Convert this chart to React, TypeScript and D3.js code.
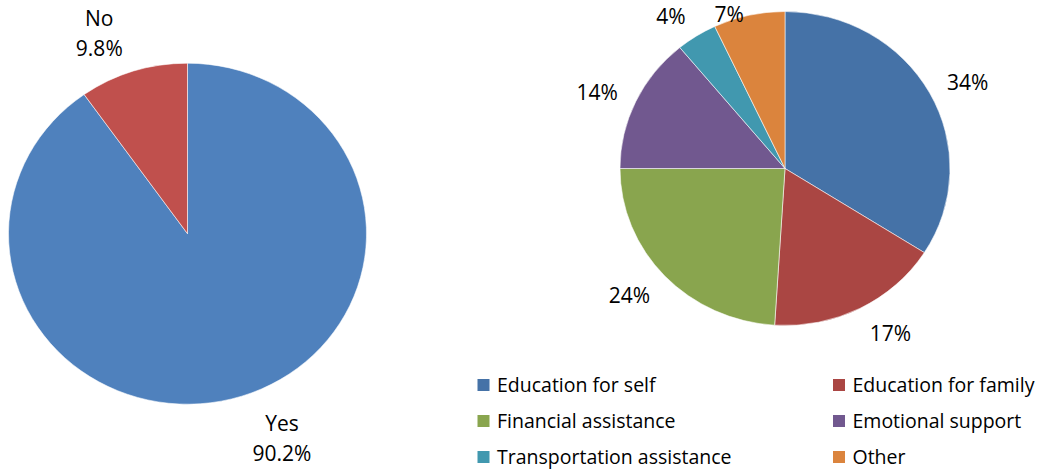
import React from "react";
import * as d3 from "d3";

const answerLabels = ["Yes", "No"];
const answerValues = [90.2, 9.8];
const answerColors = ["#4F81BD", "#C0504D"];

const needCategories = [
  "Education for self",
  "Education for family",
  "Financial assistance",
  "Emotional support",
  "Transportation assistance",
  "Other",
];
const needValues = [34, 17, 24, 14, 4, 7];
const needColors = ["#4572A7", "#AA4643", "#89A54E", "#71588F", "#4198AF", "#DB843D"];

const FONT = "'Open Sans', 'Noto Sans', sans-serif";
const W = 1044;
const H = 472;

type Pie = { cx: number; cy: number; rx: number; ry: number };
const leftPie: Pie = { cx: 187.5, cy: 233.7, rx: 179, ry: 170.5 };
const rightPie: Pie = { cx: 785, cy: 168.5, rx: 165, ry: 157 };

const LABEL_SIZE = 21;
const LINE_H = 30;

function labelPos(p: Pie, angle: number, lines: string[]) {
  const sx = Math.sin(angle);
  const sy = -Math.cos(angle);
  const ex = p.cx + p.rx * sx;
  const ey = p.cy + p.ry * sy;
  const longest = d3.max(lines, (l) => l.length) || 1;
  const w = 12.5 * longest + 4;
  const x = ex + 18 * sx + (w / 2 + 1.5) * Math.sign(sx);
  let y = ey + 26 * sy + 2 + ((lines.length - 1) * LINE_H) / 2 * Math.sign(sy);
  const half = (lines.length * LINE_H) / 2 - 6;
  y = Math.max(y, half + 5);
  return { x, y };
}

function PieChart({
  p,
  values,
  colors,
  labels,
}: {
  p: Pie;
  values: number[];
  colors: string[];
  labels: string[][];
}) {
  const arcs = d3.pie<number>().sort(null).value((d) => d)(values);
  const arc = d3.arc<d3.PieArcDatum<number>>().innerRadius(0).outerRadius(p.rx);
  return (
    <g>
      <g transform={`translate(${p.cx},${p.cy}) scale(1,${p.ry / p.rx})`}>
        {arcs.map((a, i) => (
          <path
            key={i}
            d={arc(a) || ""}
            fill={colors[i]}
            stroke="#ffffff"
            strokeOpacity={0.7}
            strokeWidth={0.8}
            vectorEffect="non-scaling-stroke"
          />
        ))}
      </g>
      {arcs.map((a, i) => {
        const mid = (a.startAngle + a.endAngle) / 2;
        const lines = labels[i];
        const pos = labelPos(p, mid, lines);
        const top = pos.y - ((lines.length - 1) * LINE_H) / 2;
        return (
          <text
            key={i}
            textAnchor="middle"
            fontFamily={FONT}
            fontSize={LABEL_SIZE}
            fill="#000"
          >
            {lines.map((l, j) => (
              <tspan key={j} x={pos.x} y={top + j * LINE_H + LABEL_SIZE * 0.36}>
                {l}
              </tspan>
            ))}
          </text>
        );
      })}
    </g>
  );
}

export default function App() {
  const leftLabels = answerLabels.map((l, i) => [l, `${answerValues[i]}%`]);
  const rightLabels = needValues.map((v) => [`${v}%`]);

  const rowY = d3.scalePoint<number>().domain([0, 1, 2]).range([385, 457]);
  const colX = d3.scalePoint<number>().domain([0, 1]).range([477.5, 833]);
  const SQ = 12;

  return (
    <svg
      width={W}
      height={H}
      viewBox={`0 0 ${W} ${H}`}
      style={{ position: "absolute", left: 0, top: 0, background: "#fff" }}
    >
      <rect width={W} height={H} fill="#fff" />
      <PieChart p={leftPie} values={answerValues} colors={answerColors} labels={leftLabels} />
      <PieChart p={rightPie} values={needValues} colors={needColors} labels={rightLabels} />
      <g>
        {needCategories.map((c, i) => {
          const x = colX(i % 2) as number;
          const y = rowY(Math.floor(i / 2)) as number;
          return (
            <g key={c}>
              <rect x={x} y={y - SQ / 2} width={SQ} height={SQ} fill={needColors[i]} />
              <text x={x + 19.5} y={y + 6.8} fontFamily={FONT} fontSize={19.5} fill="#000">
                {c}
              </text>
            </g>
          );
        })}
      </g>
    </svg>
  );
}
